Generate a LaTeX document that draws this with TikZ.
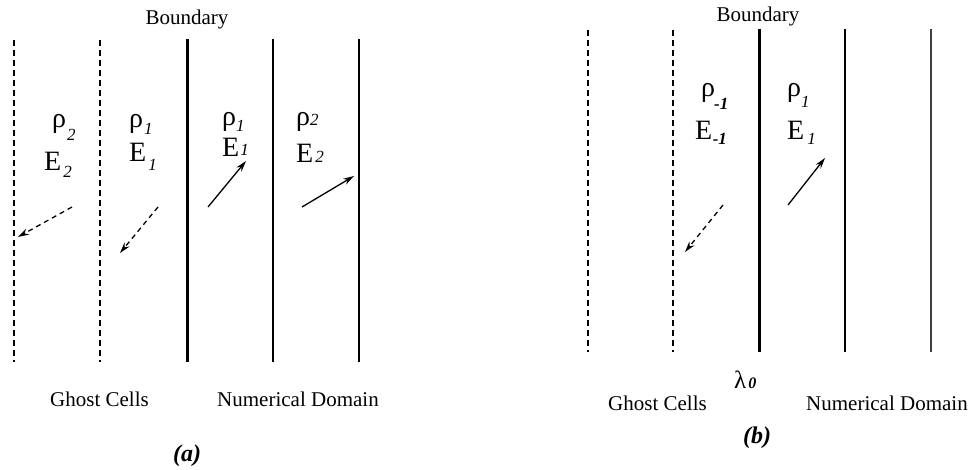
\documentclass[tikz,border=0pt]{standalone}
\usepackage{fontspec}
\setmainfont{Liberation Serif}
\usetikzlibrary{arrows.meta}
\begin{document}
\begin{tikzpicture}[x=1pt,y=-1pt,
  ghostline/.style={line width=1.3pt,dash pattern=on 6pt off 4pt},
  bndline/.style={line width=3pt},
  cellline/.style={line width=1.4pt},
  farline/.style={line width=1.2pt,black!75},
  arr/.style={line width=1.3pt,-{Stealth[length=11pt,width=6.5pt]}},
  ghostarr/.style={arr,dash pattern=on 5pt off 4pt},
  lbl/.style={font=\fontsize{21}{24}\selectfont,inner sep=0pt,anchor=base west},
  sym/.style={font=\fontsize{28}{30}\selectfont,inner sep=0pt,anchor=base west},
  figcap/.style={font=\fontsize{24}{26}\selectfont\bfseries\itshape,inner sep=0pt,anchor=base west}]
% #1 kern, #2 raise, #3 text
\newcommand{\sbi}[3]{\kern#1pt\raisebox{#2pt}{\fontsize{17}{17}\selectfont\itshape #3}}
\newcommand{\sbb}[3]{\kern#1pt\raisebox{#2pt}{\fontsize{17}{17}\selectfont\bfseries\itshape #3}}
\useasboundingbox (0,0) rectangle (974,470);
\clip (0,0) rectangle (974,470);
% ---------- (a) ----------
\coordinate (a1t) at (14,40);  \coordinate (a1b) at (14,362);
\coordinate (a2t) at (100,40); \coordinate (a2b) at (100,362);
\coordinate (a3t) at (187,39); \coordinate (a3b) at (187,362);
\coordinate (a4t) at (273,39); \coordinate (a4b) at (273,362);
\coordinate (a5t) at (359,39); \coordinate (a5b) at (359,362);
\draw[ghostline] (a1t) -- (a1b);
\draw[ghostline] (a2t) -- (a2b);
\draw[bndline] (a3t) -- (a3b);
\draw[cellline] (a4t) -- (a4b);
\draw[cellline] (a5t) -- (a5b);
\node[lbl,anchor=base] (abnd) at (187,25) {Boundary};
\node[sym] (ar1) at (52,128) {ρ\sbi{1}{-13}{2}};
\node[sym] (ae1) at (44,171) {E\sbi{2}{-7}{2}};
\node[sym] (ar2) at (129,128) {ρ\sbi{1}{-7}{1}};
\node[sym] (ae2) at (129,162) {E\sbi{2}{-9}{1}};
\node[sym] (ar3) at (222,126) {ρ\sbi{0}{-6}{1}};
\node[sym] (ae3) at (222,157) {E\sbi{1}{1}{1}};
\node[sym] (ar4) at (296,126) {ρ\sbi{0}{0}{2}};
\node[sym] (ae4) at (296,163) {E\sbi{2}{0}{2}};
\coordinate (p1s) at (72,207);  \coordinate (p1e) at (18,237);
\coordinate (p2s) at (158,207); \coordinate (p2e) at (120,253);
\coordinate (p3s) at (208,207); \coordinate (p3e) at (246,161);
\coordinate (p4s) at (302,207); \coordinate (p4e) at (354,176);
\draw[ghostarr] (p1s) -- (p1e);
\draw[ghostarr] (p2s) -- (p2e);
\draw[arr] (p3s) -- (p3e);
\draw[arr] (p4s) -- (p4e);
\node[lbl] (aghost) at (50,406) {Ghost Cells};
\node[lbl] (anum) at (217,406) {Numerical Domain};
\node[figcap] (acap) at (173,461) {(a)};
% ---------- (b) ----------
\coordinate (b1t) at (588,30);  \coordinate (b1b) at (588,352);
\coordinate (b2t) at (673,30);  \coordinate (b2b) at (673,352);
\coordinate (b3t) at (759,29);  \coordinate (b3b) at (759,352);
\coordinate (b4t) at (845,29);  \coordinate (b4b) at (845,352);
\coordinate (b5t) at (931,29);  \coordinate (b5b) at (931,352);
\draw[ghostline] (b1t) -- (b1b);
\draw[ghostline] (b2t) -- (b2b);
\draw[bndline] (b3t) -- (b3b);
\draw[cellline] (b4t) -- (b4b);
\draw[farline] (b5t) -- (b5b);
\node[lbl,anchor=base] (bbnd) at (758,22) {Boundary};
\node[sym] (br1) at (701,97) {ρ\sbb{-1}{-13}{-1}};
\node[sym] (be1) at (695,140) {E\sbb{0.5}{-5}{-1}};
\node[sym] (br2) at (787,97) {ρ\sbi{0}{-11}{1}};
\node[sym] (be2) at (787,140) {E\sbi{3}{-5}{1}};
\coordinate (q1s) at (723,205); \coordinate (q1e) at (685,252);
\coordinate (q2s) at (788,205); \coordinate (q2e) at (825,158);
\draw[ghostarr] (q1s) -- (q1e);
\draw[arr] (q2s) -- (q2e);
\node[lbl] (bghost) at (608,410) {Ghost Cells};
\node[sym,font=\fontsize{25}{26}\selectfont] (blam) at (734,388) {λ\kern2pt{\fontsize{16}{16}\selectfont\bfseries\itshape 0}};
\node[lbl] (bnum) at (806,410) {Numerical Domain};
\node[figcap] (bcap) at (743,443) {(b)};
\end{tikzpicture}
\end{document}
